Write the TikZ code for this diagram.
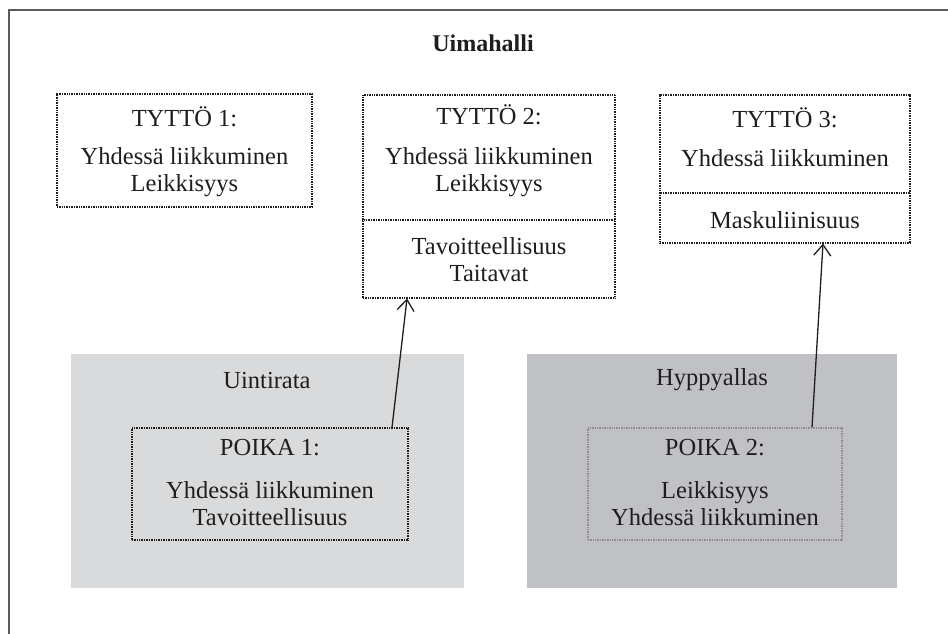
\documentclass[tikz,border=0pt]{standalone}
\usepackage{fontspec}
\setmainfont{Liberation Serif}
\usetikzlibrary{arrows.meta}
\definecolor{framegray}{HTML}{5A5A5A}
\definecolor{laneA}{HTML}{D9DADC}
\definecolor{laneB}{HTML}{C0C1C4}
\definecolor{ink}{HTML}{1E1E1E}
\tikzset{
  every node/.style={text=ink},
  dotbox/.style={draw=ink, line width=1.1pt, dash pattern=on 0.9pt off 0.8pt,
    inner sep=0pt, rectangle},
  faintbox/.style={dotbox, draw=ink!50},
  divider/.style={draw=ink, line width=1.1pt, dash pattern=on 0.9pt off 0.8pt},
  pool/.style={rectangle, inner sep=0pt, draw=none},
  label/.style={font=\fontsize{24.5}{27}\selectfont, align=center, inner sep=0pt},
  title/.style={font=\fontsize{24}{26}\selectfont\bfseries, inner sep=0pt},
  link/.style={draw=ink, line width=1.3pt, -{Straight Barb[length=11pt,width=17pt,line width=1.3pt]}},
}
\begin{document}
\begin{tikzpicture}[x=1pt, y=-1pt]
  \clip (0,0) rectangle (948,633);
  % outer frame of the hall
  \draw[framegray, line width=1.6pt] (9,10) rectangle (970,650);
  \node[title] (hall) at (483,43) {Uimahalli};

  % pools
  \node[pool, fill=laneA, minimum width=393pt, minimum height=234pt] (lane) at (267.5,471) {};
  \node[pool, fill=laneB, minimum width=370pt, minimum height=234pt] (dive) at (712,471) {};
  \node[label] (laneT) at (267,380) {Uintirata};
  \node[label] (diveT) at (712,380) {Hyppyallas};

  % girls
  \node[dotbox, minimum width=255pt, minimum height=113pt] (t1) at (184.5,150.5) {};
  \node[label] at (184.5,117) {TYTTÖ 1:};
  \node[label] at (184.5,172) {Yhdessä liikkuminen\\Leikkisyys};

  \node[dotbox, minimum width=252pt, minimum height=203pt] (t2) at (489,196.5) {};
  \draw[divider] (t2.west |- 0,220) -- (t2.east |- 0,220);
  \node[label] at (489,115) {TYTTÖ 2:};
  \node[label] at (489,172) {Yhdessä liikkuminen\\Leikkisyys};
  \node[label] at (489,260) {Tavoitteellisuus\\Taitavat};

  \node[dotbox, minimum width=250pt, minimum height=148pt] (t3) at (785,169) {};
  \draw[divider] (t3.west |- 0,193) -- (t3.east |- 0,193);
  \node[label] at (785,118) {TYTTÖ 3:};
  \node[label] at (785,158) {Yhdessä liikkuminen};
  \node[label] at (785,220) {Maskuliinisuus};

  % boys
  \node[dotbox, minimum width=276pt, minimum height=112pt] (p1) at (270,484) {};
  \node[label] at (270,448) {POIKA 1:};
  \node[label] at (270,504) {Yhdessä liikkuminen\\Tavoitteellisuus};

  \node[faintbox, minimum width=254pt, minimum height=112pt] (p2) at (715,484) {};
  \node[label] at (715,448) {POIKA 2:};
  \node[label] at (715,504) {Leikkisyys\\Yhdessä liikkuminen};

  % links
  \draw[link] ([xshift=122pt]p1.north) -- ([xshift=-82pt]t2.south);
  \draw[link] ([xshift=97pt]p2.north) -- ([xshift=38pt]t3.south);
\end{tikzpicture}
\end{document}
